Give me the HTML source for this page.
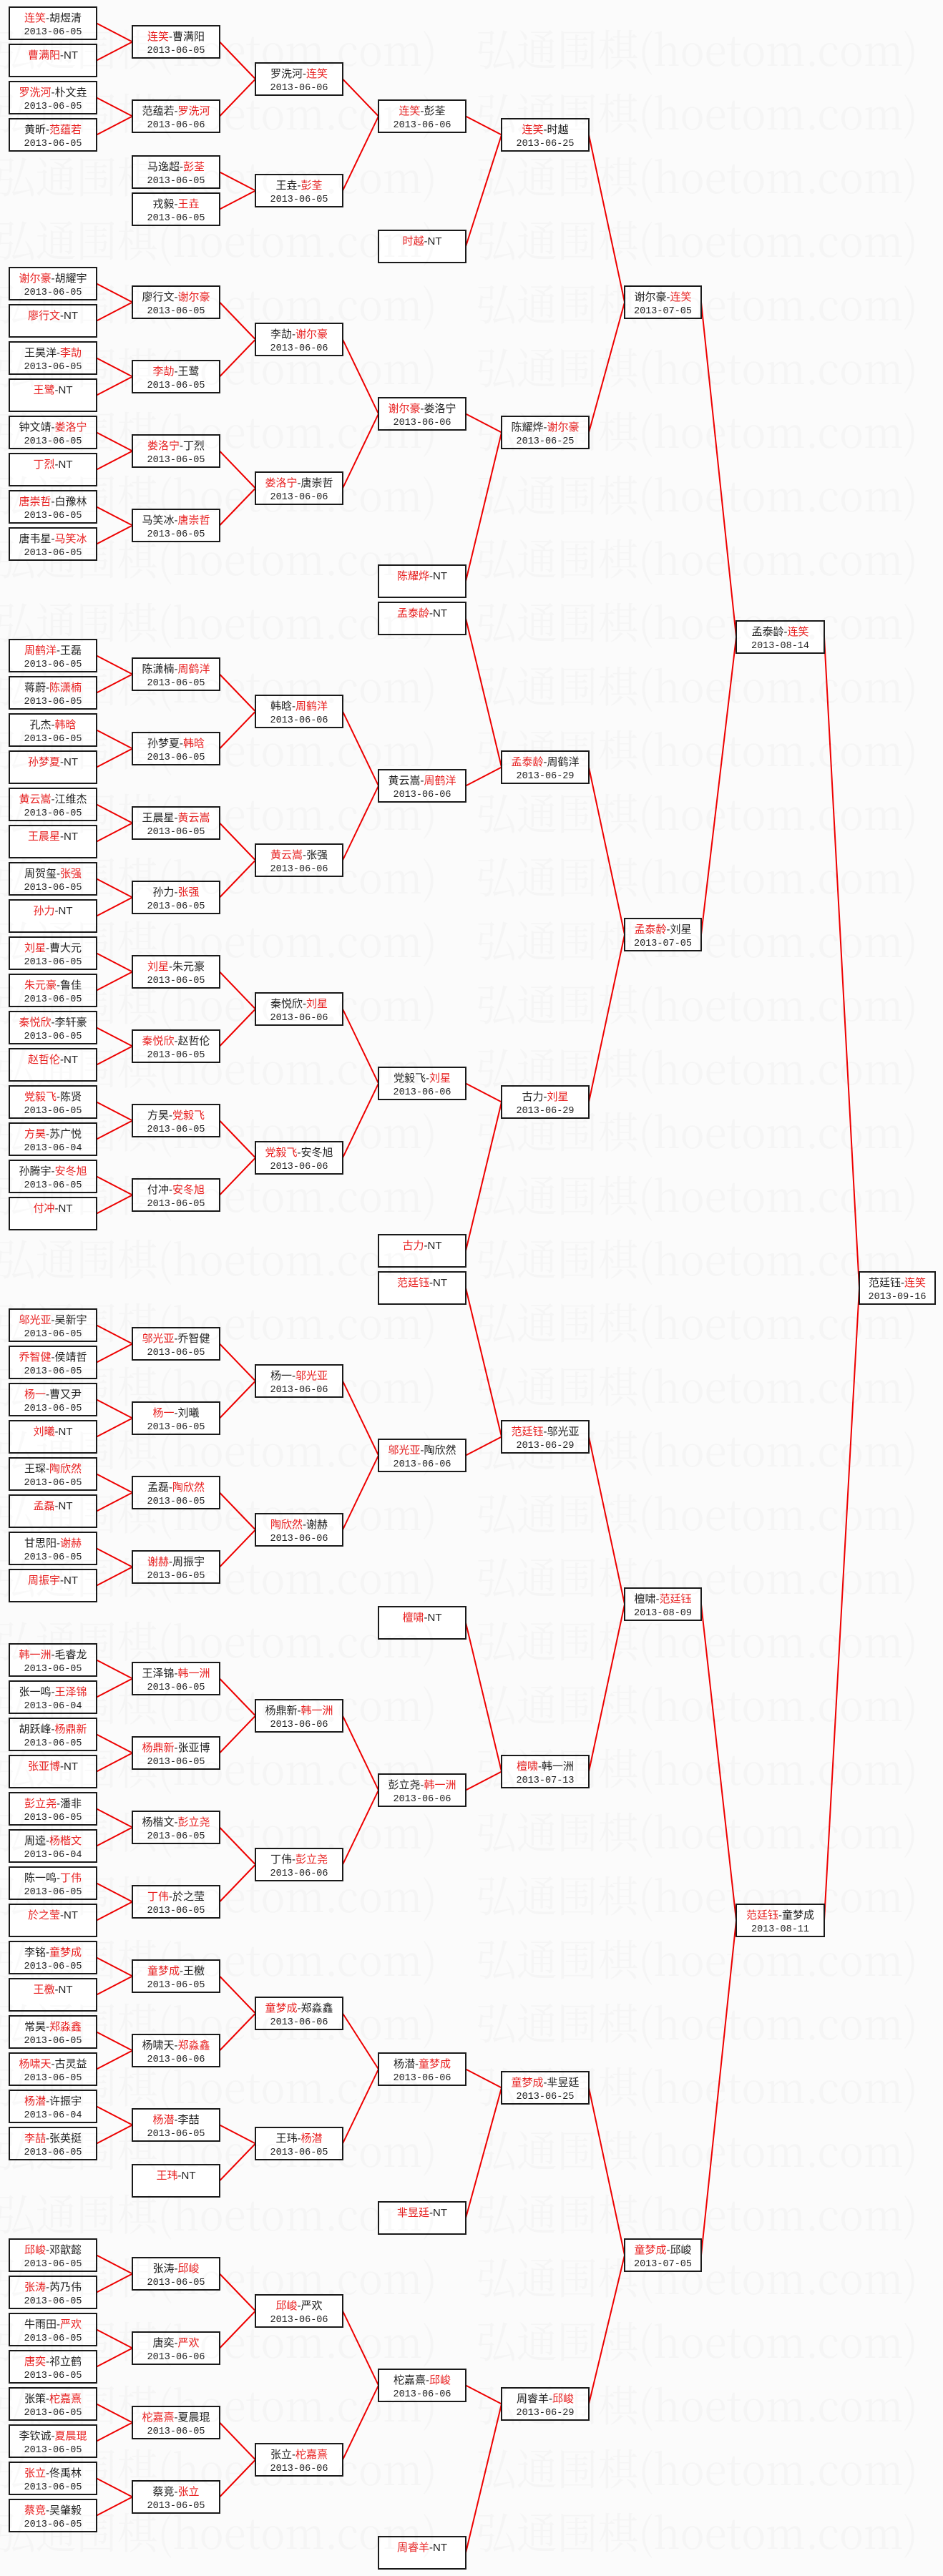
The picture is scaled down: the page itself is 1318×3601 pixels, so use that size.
<!DOCTYPE html>
<html><head><meta charset="utf-8">
<style>
body{margin:0;background:#fbfbfb}
svg{display:block}
rect{fill:#fff;stroke:#1a1a1a;stroke-width:2}
text{font-family:"Liberation Sans","Noto Sans CJK SC",sans-serif;font-size:15px;fill:#222;text-anchor:middle}
text.d{font-family:"Liberation Mono",monospace;font-size:13.5px}
tspan.r{fill:#e82020}
.wm text{font-family:"Noto Serif CJK SC",serif;font-size:60px;fill:#000;fill-opacity:0.022;text-anchor:start}
path{stroke:#e00;stroke-width:2;fill:none}
</style></head><body>
<svg width="1318" height="3601" viewBox="0 0 1318 3601" xmlns="http://www.w3.org/2000/svg">
<path d="M135 32.5L185 58.5M135 84.5L185 58.5M135 136.5L185 162.5M135 188.5L185 162.5M135 396.5L185 422.5M135 448.5L185 422.5M135 500.5L185 526.5M135 552.5L185 526.5M135 604.5L185 630.5M135 656.5L185 630.5M135 708.5L185 734.5M135 760.5L185 734.5M135 916.5L185 942.5M135 968.5L185 942.5M135 1020.5L185 1046.5M135 1072.5L185 1046.5M135 1124.5L185 1150.5M135 1176.5L185 1150.5M135 1228.5L185 1254.5M135 1280.5L185 1254.5M135 1332.5L185 1358.5M135 1384.5L185 1358.5M135 1436.5L185 1462.5M135 1488.5L185 1462.5M135 1540.5L185 1566.5M135 1592.5L185 1566.5M135 1644.5L185 1670.5M135 1696.5L185 1670.5M135 1852.5L185 1878.5M135 1904.5L185 1878.5M135 1956.5L185 1982.5M135 2008.5L185 1982.5M135 2060.5L185 2086.5M135 2112.5L185 2086.5M135 2164.5L185 2190.5M135 2216.5L185 2190.5M135 2320.5L185 2346.5M135 2372.5L185 2346.5M135 2424.5L185 2450.5M135 2476.5L185 2450.5M135 2528.5L185 2554.5M135 2580.5L185 2554.5M135 2632.5L185 2658.5M135 2684.5L185 2658.5M135 2736.5L185 2762.5M135 2788.5L185 2762.5M135 2840.5L185 2866.5M135 2892.5L185 2866.5M135 2944.5L185 2970.5M135 2996.5L185 2970.5M135 3152.5L185 3178.5M135 3204.5L185 3178.5M135 3256.5L185 3282.5M135 3308.5L185 3282.5M135 3360.5L185 3386.5M135 3412.5L185 3386.5M135 3464.5L185 3490.5M135 3516.5L185 3490.5
M307 58.5L357 110.5M307 162.5L357 110.5M307 240.5L357 266.5M307 292.5L357 266.5M307 422.5L357 474.5M307 526.5L357 474.5M307 630.5L357 682.5M307 734.5L357 682.5M307 942.5L357 994.5M307 1046.5L357 994.5M307 1150.5L357 1202.5M307 1254.5L357 1202.5M307 1358.5L357 1410.5M307 1462.5L357 1410.5M307 1566.5L357 1618.5M307 1670.5L357 1618.5M307 1878.5L357 1930.5M307 1982.5L357 1930.5M307 2086.5L357 2138.5M307 2190.5L357 2138.5M307 2346.5L357 2398.5M307 2450.5L357 2398.5M307 2554.5L357 2606.5M307 2658.5L357 2606.5M307 2762.5L357 2814.5M307 2866.5L357 2814.5M307 2970.5L357 2996.5M307 3048.5L357 2996.5M307 3178.5L357 3230.5M307 3282.5L357 3230.5M307 3386.5L357 3438.5M307 3490.5L357 3438.5
M479 110.5L529 162.5M479 266.5L529 162.5M479 474.5L529 578.5M479 682.5L529 578.5M479 994.5L529 1098.5M479 1202.5L529 1098.5M479 1410.5L529 1514.5M479 1618.5L529 1514.5M479 1930.5L529 2034.5M479 2138.5L529 2034.5M479 2398.5L529 2502.5M479 2606.5L529 2502.5M479 2814.5L529 2892.5M479 2996.5L529 2892.5M479 3230.5L529 3334.5M479 3438.5L529 3334.5
M651 162.5L701 188.5M651 344.5L701 188.5M651 578.5L701 604.5M651 812.5L701 604.5M651 864.5L701 1072.5M651 1098.5L701 1072.5M651 1514.5L701 1540.5M651 1748.5L701 1540.5M651 1800.5L701 2008.5M651 2034.5L701 2008.5M651 2268.5L701 2476.5M651 2502.5L701 2476.5M651 2892.5L701 2918.5M651 3100.5L701 2918.5M651 3334.5L701 3360.5M651 3568.5L701 3360.5
M823 188.5L873 422.5M823 604.5L873 422.5M823 1072.5L873 1306.5M823 1540.5L873 1306.5M823 2008.5L873 2242.5M823 2476.5L873 2242.5M823 2918.5L873 3152.5M823 3360.5L873 3152.5
M980 422.5L1029 890.5M980 1306.5L1029 890.5M980 2242.5L1029 2684.5M980 3152.5L1029 2684.5
M1152 890.5L1201 1800.5M1152 2684.5L1201 1800.5"/>

<g transform="translate(13,10)"><rect width="122" height="45"/><text x="61" y="20"><tspan class="r">连笑</tspan>-胡煜清</text><text class="d" x="61" y="38">2013-06-05</text></g>
<g transform="translate(13,62)"><rect width="122" height="45"/><text x="61" y="20"><tspan class="r">曹满阳</tspan>-NT</text></g>
<g transform="translate(13,114)"><rect width="122" height="45"/><text x="61" y="20"><tspan class="r">罗洗河</tspan>-朴文垚</text><text class="d" x="61" y="38">2013-06-05</text></g>
<g transform="translate(13,166)"><rect width="122" height="45"/><text x="61" y="20">黄昕-<tspan class="r">范蕴若</tspan></text><text class="d" x="61" y="38">2013-06-05</text></g>
<g transform="translate(13,374)"><rect width="122" height="45"/><text x="61" y="20"><tspan class="r">谢尔豪</tspan>-胡耀宇</text><text class="d" x="61" y="38">2013-06-05</text></g>
<g transform="translate(13,426)"><rect width="122" height="45"/><text x="61" y="20"><tspan class="r">廖行文</tspan>-NT</text></g>
<g transform="translate(13,478)"><rect width="122" height="45"/><text x="61" y="20">王昊洋-<tspan class="r">李劼</tspan></text><text class="d" x="61" y="38">2013-06-05</text></g>
<g transform="translate(13,530)"><rect width="122" height="45"/><text x="61" y="20"><tspan class="r">王鹭</tspan>-NT</text></g>
<g transform="translate(13,582)"><rect width="122" height="45"/><text x="61" y="20">钟文靖-<tspan class="r">娄洛宁</tspan></text><text class="d" x="61" y="38">2013-06-05</text></g>
<g transform="translate(13,634)"><rect width="122" height="45"/><text x="61" y="20"><tspan class="r">丁烈</tspan>-NT</text></g>
<g transform="translate(13,686)"><rect width="122" height="45"/><text x="61" y="20"><tspan class="r">唐崇哲</tspan>-白豫林</text><text class="d" x="61" y="38">2013-06-05</text></g>
<g transform="translate(13,738)"><rect width="122" height="45"/><text x="61" y="20">唐韦星-<tspan class="r">马笑冰</tspan></text><text class="d" x="61" y="38">2013-06-05</text></g>
<g transform="translate(13,894)"><rect width="122" height="45"/><text x="61" y="20"><tspan class="r">周鹤洋</tspan>-王磊</text><text class="d" x="61" y="38">2013-06-05</text></g>
<g transform="translate(13,946)"><rect width="122" height="45"/><text x="61" y="20">蒋蔚-<tspan class="r">陈潇楠</tspan></text><text class="d" x="61" y="38">2013-06-05</text></g>
<g transform="translate(13,998)"><rect width="122" height="45"/><text x="61" y="20">孔杰-<tspan class="r">韩晗</tspan></text><text class="d" x="61" y="38">2013-06-05</text></g>
<g transform="translate(13,1050)"><rect width="122" height="45"/><text x="61" y="20"><tspan class="r">孙梦夏</tspan>-NT</text></g>
<g transform="translate(13,1102)"><rect width="122" height="45"/><text x="61" y="20"><tspan class="r">黄云嵩</tspan>-江维杰</text><text class="d" x="61" y="38">2013-06-05</text></g>
<g transform="translate(13,1154)"><rect width="122" height="45"/><text x="61" y="20"><tspan class="r">王晨星</tspan>-NT</text></g>
<g transform="translate(13,1206)"><rect width="122" height="45"/><text x="61" y="20">周贺玺-<tspan class="r">张强</tspan></text><text class="d" x="61" y="38">2013-06-05</text></g>
<g transform="translate(13,1258)"><rect width="122" height="45"/><text x="61" y="20"><tspan class="r">孙力</tspan>-NT</text></g>
<g transform="translate(13,1310)"><rect width="122" height="45"/><text x="61" y="20"><tspan class="r">刘星</tspan>-曹大元</text><text class="d" x="61" y="38">2013-06-05</text></g>
<g transform="translate(13,1362)"><rect width="122" height="45"/><text x="61" y="20"><tspan class="r">朱元豪</tspan>-鲁佳</text><text class="d" x="61" y="38">2013-06-05</text></g>
<g transform="translate(13,1414)"><rect width="122" height="45"/><text x="61" y="20"><tspan class="r">秦悦欣</tspan>-李轩豪</text><text class="d" x="61" y="38">2013-06-05</text></g>
<g transform="translate(13,1466)"><rect width="122" height="45"/><text x="61" y="20"><tspan class="r">赵哲伦</tspan>-NT</text></g>
<g transform="translate(13,1518)"><rect width="122" height="45"/><text x="61" y="20"><tspan class="r">党毅飞</tspan>-陈贤</text><text class="d" x="61" y="38">2013-06-05</text></g>
<g transform="translate(13,1570)"><rect width="122" height="45"/><text x="61" y="20"><tspan class="r">方昊</tspan>-苏广悦</text><text class="d" x="61" y="38">2013-06-04</text></g>
<g transform="translate(13,1622)"><rect width="122" height="45"/><text x="61" y="20">孙腾宇-<tspan class="r">安冬旭</tspan></text><text class="d" x="61" y="38">2013-06-05</text></g>
<g transform="translate(13,1674)"><rect width="122" height="45"/><text x="61" y="20"><tspan class="r">付冲</tspan>-NT</text></g>
<g transform="translate(13,1830)"><rect width="122" height="45"/><text x="61" y="20"><tspan class="r">邬光亚</tspan>-吴新宇</text><text class="d" x="61" y="38">2013-06-05</text></g>
<g transform="translate(13,1882)"><rect width="122" height="45"/><text x="61" y="20"><tspan class="r">乔智健</tspan>-侯靖哲</text><text class="d" x="61" y="38">2013-06-05</text></g>
<g transform="translate(13,1934)"><rect width="122" height="45"/><text x="61" y="20"><tspan class="r">杨一</tspan>-曹又尹</text><text class="d" x="61" y="38">2013-06-05</text></g>
<g transform="translate(13,1986)"><rect width="122" height="45"/><text x="61" y="20"><tspan class="r">刘曦</tspan>-NT</text></g>
<g transform="translate(13,2038)"><rect width="122" height="45"/><text x="61" y="20">王琛-<tspan class="r">陶欣然</tspan></text><text class="d" x="61" y="38">2013-06-05</text></g>
<g transform="translate(13,2090)"><rect width="122" height="45"/><text x="61" y="20"><tspan class="r">孟磊</tspan>-NT</text></g>
<g transform="translate(13,2142)"><rect width="122" height="45"/><text x="61" y="20">甘思阳-<tspan class="r">谢赫</tspan></text><text class="d" x="61" y="38">2013-06-05</text></g>
<g transform="translate(13,2194)"><rect width="122" height="45"/><text x="61" y="20"><tspan class="r">周振宇</tspan>-NT</text></g>
<g transform="translate(13,2298)"><rect width="122" height="45"/><text x="61" y="20"><tspan class="r">韩一洲</tspan>-毛睿龙</text><text class="d" x="61" y="38">2013-06-05</text></g>
<g transform="translate(13,2350)"><rect width="122" height="45"/><text x="61" y="20">张一鸣-<tspan class="r">王泽锦</tspan></text><text class="d" x="61" y="38">2013-06-04</text></g>
<g transform="translate(13,2402)"><rect width="122" height="45"/><text x="61" y="20">胡跃峰-<tspan class="r">杨鼎新</tspan></text><text class="d" x="61" y="38">2013-06-05</text></g>
<g transform="translate(13,2454)"><rect width="122" height="45"/><text x="61" y="20"><tspan class="r">张亚博</tspan>-NT</text></g>
<g transform="translate(13,2506)"><rect width="122" height="45"/><text x="61" y="20"><tspan class="r">彭立尧</tspan>-潘非</text><text class="d" x="61" y="38">2013-06-05</text></g>
<g transform="translate(13,2558)"><rect width="122" height="45"/><text x="61" y="20">周逵-<tspan class="r">杨楷文</tspan></text><text class="d" x="61" y="38">2013-06-04</text></g>
<g transform="translate(13,2610)"><rect width="122" height="45"/><text x="61" y="20">陈一鸣-<tspan class="r">丁伟</tspan></text><text class="d" x="61" y="38">2013-06-05</text></g>
<g transform="translate(13,2662)"><rect width="122" height="45"/><text x="61" y="20"><tspan class="r">於之莹</tspan>-NT</text></g>
<g transform="translate(13,2714)"><rect width="122" height="45"/><text x="61" y="20">李铭-<tspan class="r">童梦成</tspan></text><text class="d" x="61" y="38">2013-06-05</text></g>
<g transform="translate(13,2766)"><rect width="122" height="45"/><text x="61" y="20"><tspan class="r">王檄</tspan>-NT</text></g>
<g transform="translate(13,2818)"><rect width="122" height="45"/><text x="61" y="20">常昊-<tspan class="r">郑淼鑫</tspan></text><text class="d" x="61" y="38">2013-06-05</text></g>
<g transform="translate(13,2870)"><rect width="122" height="45"/><text x="61" y="20"><tspan class="r">杨啸天</tspan>-古灵益</text><text class="d" x="61" y="38">2013-06-05</text></g>
<g transform="translate(13,2922)"><rect width="122" height="45"/><text x="61" y="20"><tspan class="r">杨潜</tspan>-许振宇</text><text class="d" x="61" y="38">2013-06-04</text></g>
<g transform="translate(13,2974)"><rect width="122" height="45"/><text x="61" y="20"><tspan class="r">李喆</tspan>-张英挺</text><text class="d" x="61" y="38">2013-06-05</text></g>
<g transform="translate(13,3130)"><rect width="122" height="45"/><text x="61" y="20"><tspan class="r">邱峻</tspan>-邓歆懿</text><text class="d" x="61" y="38">2013-06-05</text></g>
<g transform="translate(13,3182)"><rect width="122" height="45"/><text x="61" y="20"><tspan class="r">张涛</tspan>-芮乃伟</text><text class="d" x="61" y="38">2013-06-05</text></g>
<g transform="translate(13,3234)"><rect width="122" height="45"/><text x="61" y="20">牛雨田-<tspan class="r">严欢</tspan></text><text class="d" x="61" y="38">2013-06-05</text></g>
<g transform="translate(13,3286)"><rect width="122" height="45"/><text x="61" y="20"><tspan class="r">唐奕</tspan>-祁立鹤</text><text class="d" x="61" y="38">2013-06-05</text></g>
<g transform="translate(13,3338)"><rect width="122" height="45"/><text x="61" y="20">张策-<tspan class="r">柁嘉熹</tspan></text><text class="d" x="61" y="38">2013-06-05</text></g>
<g transform="translate(13,3390)"><rect width="122" height="45"/><text x="61" y="20">李钦诚-<tspan class="r">夏晨琨</tspan></text><text class="d" x="61" y="38">2013-06-05</text></g>
<g transform="translate(13,3442)"><rect width="122" height="45"/><text x="61" y="20"><tspan class="r">张立</tspan>-佟禹林</text><text class="d" x="61" y="38">2013-06-05</text></g>
<g transform="translate(13,3494)"><rect width="122" height="45"/><text x="61" y="20"><tspan class="r">蔡竞</tspan>-吴肇毅</text><text class="d" x="61" y="38">2013-06-05</text></g>

<g transform="translate(185,36)"><rect width="122" height="45"/><text x="61" y="20"><tspan class="r">连笑</tspan>-曹满阳</text><text class="d" x="61" y="38">2013-06-05</text></g>
<g transform="translate(185,140)"><rect width="122" height="45"/><text x="61" y="20">范蕴若-<tspan class="r">罗洗河</tspan></text><text class="d" x="61" y="38">2013-06-06</text></g>
<g transform="translate(185,218)"><rect width="122" height="45"/><text x="61" y="20">马逸超-<tspan class="r">彭荃</tspan></text><text class="d" x="61" y="38">2013-06-05</text></g>
<g transform="translate(185,270)"><rect width="122" height="45"/><text x="61" y="20">戎毅-<tspan class="r">王垚</tspan></text><text class="d" x="61" y="38">2013-06-05</text></g>
<g transform="translate(185,400)"><rect width="122" height="45"/><text x="61" y="20">廖行文-<tspan class="r">谢尔豪</tspan></text><text class="d" x="61" y="38">2013-06-05</text></g>
<g transform="translate(185,504)"><rect width="122" height="45"/><text x="61" y="20"><tspan class="r">李劼</tspan>-王鹭</text><text class="d" x="61" y="38">2013-06-05</text></g>
<g transform="translate(185,608)"><rect width="122" height="45"/><text x="61" y="20"><tspan class="r">娄洛宁</tspan>-丁烈</text><text class="d" x="61" y="38">2013-06-05</text></g>
<g transform="translate(185,712)"><rect width="122" height="45"/><text x="61" y="20">马笑冰-<tspan class="r">唐崇哲</tspan></text><text class="d" x="61" y="38">2013-06-05</text></g>
<g transform="translate(185,920)"><rect width="122" height="45"/><text x="61" y="20">陈潇楠-<tspan class="r">周鹤洋</tspan></text><text class="d" x="61" y="38">2013-06-05</text></g>
<g transform="translate(185,1024)"><rect width="122" height="45"/><text x="61" y="20">孙梦夏-<tspan class="r">韩晗</tspan></text><text class="d" x="61" y="38">2013-06-05</text></g>
<g transform="translate(185,1128)"><rect width="122" height="45"/><text x="61" y="20">王晨星-<tspan class="r">黄云嵩</tspan></text><text class="d" x="61" y="38">2013-06-05</text></g>
<g transform="translate(185,1232)"><rect width="122" height="45"/><text x="61" y="20">孙力-<tspan class="r">张强</tspan></text><text class="d" x="61" y="38">2013-06-05</text></g>
<g transform="translate(185,1336)"><rect width="122" height="45"/><text x="61" y="20"><tspan class="r">刘星</tspan>-朱元豪</text><text class="d" x="61" y="38">2013-06-05</text></g>
<g transform="translate(185,1440)"><rect width="122" height="45"/><text x="61" y="20"><tspan class="r">秦悦欣</tspan>-赵哲伦</text><text class="d" x="61" y="38">2013-06-05</text></g>
<g transform="translate(185,1544)"><rect width="122" height="45"/><text x="61" y="20">方昊-<tspan class="r">党毅飞</tspan></text><text class="d" x="61" y="38">2013-06-05</text></g>
<g transform="translate(185,1648)"><rect width="122" height="45"/><text x="61" y="20">付冲-<tspan class="r">安冬旭</tspan></text><text class="d" x="61" y="38">2013-06-05</text></g>
<g transform="translate(185,1856)"><rect width="122" height="45"/><text x="61" y="20"><tspan class="r">邬光亚</tspan>-乔智健</text><text class="d" x="61" y="38">2013-06-05</text></g>
<g transform="translate(185,1960)"><rect width="122" height="45"/><text x="61" y="20"><tspan class="r">杨一</tspan>-刘曦</text><text class="d" x="61" y="38">2013-06-05</text></g>
<g transform="translate(185,2064)"><rect width="122" height="45"/><text x="61" y="20">孟磊-<tspan class="r">陶欣然</tspan></text><text class="d" x="61" y="38">2013-06-05</text></g>
<g transform="translate(185,2168)"><rect width="122" height="45"/><text x="61" y="20"><tspan class="r">谢赫</tspan>-周振宇</text><text class="d" x="61" y="38">2013-06-05</text></g>
<g transform="translate(185,2324)"><rect width="122" height="45"/><text x="61" y="20">王泽锦-<tspan class="r">韩一洲</tspan></text><text class="d" x="61" y="38">2013-06-05</text></g>
<g transform="translate(185,2428)"><rect width="122" height="45"/><text x="61" y="20"><tspan class="r">杨鼎新</tspan>-张亚博</text><text class="d" x="61" y="38">2013-06-05</text></g>
<g transform="translate(185,2532)"><rect width="122" height="45"/><text x="61" y="20">杨楷文-<tspan class="r">彭立尧</tspan></text><text class="d" x="61" y="38">2013-06-05</text></g>
<g transform="translate(185,2636)"><rect width="122" height="45"/><text x="61" y="20"><tspan class="r">丁伟</tspan>-於之莹</text><text class="d" x="61" y="38">2013-06-05</text></g>
<g transform="translate(185,2740)"><rect width="122" height="45"/><text x="61" y="20"><tspan class="r">童梦成</tspan>-王檄</text><text class="d" x="61" y="38">2013-06-05</text></g>
<g transform="translate(185,2844)"><rect width="122" height="45"/><text x="61" y="20">杨啸天-<tspan class="r">郑淼鑫</tspan></text><text class="d" x="61" y="38">2013-06-06</text></g>
<g transform="translate(185,2948)"><rect width="122" height="45"/><text x="61" y="20"><tspan class="r">杨潜</tspan>-李喆</text><text class="d" x="61" y="38">2013-06-05</text></g>
<g transform="translate(185,3026)"><rect width="122" height="45"/><text x="61" y="20"><tspan class="r">王玮</tspan>-NT</text></g>
<g transform="translate(185,3156)"><rect width="122" height="45"/><text x="61" y="20">张涛-<tspan class="r">邱峻</tspan></text><text class="d" x="61" y="38">2013-06-05</text></g>
<g transform="translate(185,3260)"><rect width="122" height="45"/><text x="61" y="20">唐奕-<tspan class="r">严欢</tspan></text><text class="d" x="61" y="38">2013-06-06</text></g>
<g transform="translate(185,3364)"><rect width="122" height="45"/><text x="61" y="20"><tspan class="r">柁嘉熹</tspan>-夏晨琨</text><text class="d" x="61" y="38">2013-06-05</text></g>
<g transform="translate(185,3468)"><rect width="122" height="45"/><text x="61" y="20">蔡竞-<tspan class="r">张立</tspan></text><text class="d" x="61" y="38">2013-06-05</text></g>

<g transform="translate(357,88)"><rect width="122" height="45"/><text x="61" y="20">罗洗河-<tspan class="r">连笑</tspan></text><text class="d" x="61" y="38">2013-06-06</text></g>
<g transform="translate(357,244)"><rect width="122" height="45"/><text x="61" y="20">王垚-<tspan class="r">彭荃</tspan></text><text class="d" x="61" y="38">2013-06-05</text></g>
<g transform="translate(357,452)"><rect width="122" height="45"/><text x="61" y="20">李劼-<tspan class="r">谢尔豪</tspan></text><text class="d" x="61" y="38">2013-06-06</text></g>
<g transform="translate(357,660)"><rect width="122" height="45"/><text x="61" y="20"><tspan class="r">娄洛宁</tspan>-唐崇哲</text><text class="d" x="61" y="38">2013-06-06</text></g>
<g transform="translate(357,972)"><rect width="122" height="45"/><text x="61" y="20">韩晗-<tspan class="r">周鹤洋</tspan></text><text class="d" x="61" y="38">2013-06-06</text></g>
<g transform="translate(357,1180)"><rect width="122" height="45"/><text x="61" y="20"><tspan class="r">黄云嵩</tspan>-张强</text><text class="d" x="61" y="38">2013-06-06</text></g>
<g transform="translate(357,1388)"><rect width="122" height="45"/><text x="61" y="20">秦悦欣-<tspan class="r">刘星</tspan></text><text class="d" x="61" y="38">2013-06-06</text></g>
<g transform="translate(357,1596)"><rect width="122" height="45"/><text x="61" y="20"><tspan class="r">党毅飞</tspan>-安冬旭</text><text class="d" x="61" y="38">2013-06-06</text></g>
<g transform="translate(357,1908)"><rect width="122" height="45"/><text x="61" y="20">杨一-<tspan class="r">邬光亚</tspan></text><text class="d" x="61" y="38">2013-06-06</text></g>
<g transform="translate(357,2116)"><rect width="122" height="45"/><text x="61" y="20"><tspan class="r">陶欣然</tspan>-谢赫</text><text class="d" x="61" y="38">2013-06-06</text></g>
<g transform="translate(357,2376)"><rect width="122" height="45"/><text x="61" y="20">杨鼎新-<tspan class="r">韩一洲</tspan></text><text class="d" x="61" y="38">2013-06-06</text></g>
<g transform="translate(357,2584)"><rect width="122" height="45"/><text x="61" y="20">丁伟-<tspan class="r">彭立尧</tspan></text><text class="d" x="61" y="38">2013-06-06</text></g>
<g transform="translate(357,2792)"><rect width="122" height="45"/><text x="61" y="20"><tspan class="r">童梦成</tspan>-郑淼鑫</text><text class="d" x="61" y="38">2013-06-06</text></g>
<g transform="translate(357,2974)"><rect width="122" height="45"/><text x="61" y="20">王玮-<tspan class="r">杨潜</tspan></text><text class="d" x="61" y="38">2013-06-05</text></g>
<g transform="translate(357,3208)"><rect width="122" height="45"/><text x="61" y="20"><tspan class="r">邱峻</tspan>-严欢</text><text class="d" x="61" y="38">2013-06-06</text></g>
<g transform="translate(357,3416)"><rect width="122" height="45"/><text x="61" y="20">张立-<tspan class="r">柁嘉熹</tspan></text><text class="d" x="61" y="38">2013-06-06</text></g>

<g transform="translate(529,140)"><rect width="122" height="45"/><text x="61" y="20"><tspan class="r">连笑</tspan>-彭荃</text><text class="d" x="61" y="38">2013-06-06</text></g>
<g transform="translate(529,322)"><rect width="122" height="45"/><text x="61" y="20"><tspan class="r">时越</tspan>-NT</text></g>
<g transform="translate(529,556)"><rect width="122" height="45"/><text x="61" y="20"><tspan class="r">谢尔豪</tspan>-娄洛宁</text><text class="d" x="61" y="38">2013-06-06</text></g>
<g transform="translate(529,790)"><rect width="122" height="45"/><text x="61" y="20"><tspan class="r">陈耀烨</tspan>-NT</text></g>
<g transform="translate(529,842)"><rect width="122" height="45"/><text x="61" y="20"><tspan class="r">孟泰龄</tspan>-NT</text></g>
<g transform="translate(529,1076)"><rect width="122" height="45"/><text x="61" y="20">黄云嵩-<tspan class="r">周鹤洋</tspan></text><text class="d" x="61" y="38">2013-06-06</text></g>
<g transform="translate(529,1492)"><rect width="122" height="45"/><text x="61" y="20">党毅飞-<tspan class="r">刘星</tspan></text><text class="d" x="61" y="38">2013-06-06</text></g>
<g transform="translate(529,1726)"><rect width="122" height="45"/><text x="61" y="20"><tspan class="r">古力</tspan>-NT</text></g>
<g transform="translate(529,1778)"><rect width="122" height="45"/><text x="61" y="20"><tspan class="r">范廷钰</tspan>-NT</text></g>
<g transform="translate(529,2012)"><rect width="122" height="45"/><text x="61" y="20"><tspan class="r">邬光亚</tspan>-陶欣然</text><text class="d" x="61" y="38">2013-06-06</text></g>
<g transform="translate(529,2246)"><rect width="122" height="45"/><text x="61" y="20"><tspan class="r">檀啸</tspan>-NT</text></g>
<g transform="translate(529,2480)"><rect width="122" height="45"/><text x="61" y="20">彭立尧-<tspan class="r">韩一洲</tspan></text><text class="d" x="61" y="38">2013-06-06</text></g>
<g transform="translate(529,2870)"><rect width="122" height="45"/><text x="61" y="20">杨潜-<tspan class="r">童梦成</tspan></text><text class="d" x="61" y="38">2013-06-06</text></g>
<g transform="translate(529,3078)"><rect width="122" height="45"/><text x="61" y="20"><tspan class="r">芈昱廷</tspan>-NT</text></g>
<g transform="translate(529,3312)"><rect width="122" height="45"/><text x="61" y="20">柁嘉熹-<tspan class="r">邱峻</tspan></text><text class="d" x="61" y="38">2013-06-06</text></g>
<g transform="translate(529,3546)"><rect width="122" height="45"/><text x="61" y="20"><tspan class="r">周睿羊</tspan>-NT</text></g>

<g transform="translate(701,166)"><rect width="122" height="45"/><text x="61" y="20"><tspan class="r">连笑</tspan>-时越</text><text class="d" x="61" y="38">2013-06-25</text></g>
<g transform="translate(701,582)"><rect width="122" height="45"/><text x="61" y="20">陈耀烨-<tspan class="r">谢尔豪</tspan></text><text class="d" x="61" y="38">2013-06-25</text></g>
<g transform="translate(701,1050)"><rect width="122" height="45"/><text x="61" y="20"><tspan class="r">孟泰龄</tspan>-周鹤洋</text><text class="d" x="61" y="38">2013-06-29</text></g>
<g transform="translate(701,1518)"><rect width="122" height="45"/><text x="61" y="20">古力-<tspan class="r">刘星</tspan></text><text class="d" x="61" y="38">2013-06-29</text></g>
<g transform="translate(701,1986)"><rect width="122" height="45"/><text x="61" y="20"><tspan class="r">范廷钰</tspan>-邬光亚</text><text class="d" x="61" y="38">2013-06-29</text></g>
<g transform="translate(701,2454)"><rect width="122" height="45"/><text x="61" y="20"><tspan class="r">檀啸</tspan>-韩一洲</text><text class="d" x="61" y="38">2013-07-13</text></g>
<g transform="translate(701,2896)"><rect width="122" height="45"/><text x="61" y="20"><tspan class="r">童梦成</tspan>-芈昱廷</text><text class="d" x="61" y="38">2013-06-25</text></g>
<g transform="translate(701,3338)"><rect width="122" height="45"/><text x="61" y="20">周睿羊-<tspan class="r">邱峻</tspan></text><text class="d" x="61" y="38">2013-06-29</text></g>

<g transform="translate(873,400)"><rect width="107" height="45"/><text x="53.5" y="20">谢尔豪-<tspan class="r">连笑</tspan></text><text class="d" x="53.5" y="38">2013-07-05</text></g>
<g transform="translate(873,1284)"><rect width="107" height="45"/><text x="53.5" y="20"><tspan class="r">孟泰龄</tspan>-刘星</text><text class="d" x="53.5" y="38">2013-07-05</text></g>
<g transform="translate(873,2220)"><rect width="107" height="45"/><text x="53.5" y="20">檀啸-<tspan class="r">范廷钰</tspan></text><text class="d" x="53.5" y="38">2013-08-09</text></g>
<g transform="translate(873,3130)"><rect width="107" height="45"/><text x="53.5" y="20"><tspan class="r">童梦成</tspan>-邱峻</text><text class="d" x="53.5" y="38">2013-07-05</text></g>

<g transform="translate(1029,868)"><rect width="123" height="45"/><text x="61.5" y="20">孟泰龄-<tspan class="r">连笑</tspan></text><text class="d" x="61.5" y="38">2013-08-14</text></g>
<g transform="translate(1029,2662)"><rect width="123" height="45"/><text x="61.5" y="20"><tspan class="r">范廷钰</tspan>-童梦成</text><text class="d" x="61.5" y="38">2013-08-11</text></g>

<g transform="translate(1201,1778)"><rect width="106" height="45"/><text x="53" y="20">范廷钰-<tspan class="r">连笑</tspan></text><text class="d" x="53" y="38">2013-09-16</text></g>

<g class="wm">
<text x="-7" y="92" textLength="618" lengthAdjust="spacingAndGlyphs">弘通围棋(hoetom.com)</text><text x="665" y="92" textLength="618" lengthAdjust="spacingAndGlyphs">弘通围棋(hoetom.com)</text>
<text x="-7" y="181" textLength="618" lengthAdjust="spacingAndGlyphs">弘通围棋(hoetom.com)</text><text x="665" y="181" textLength="618" lengthAdjust="spacingAndGlyphs">弘通围棋(hoetom.com)</text>
<text x="-7" y="270" textLength="618" lengthAdjust="spacingAndGlyphs">弘通围棋(hoetom.com)</text><text x="665" y="270" textLength="618" lengthAdjust="spacingAndGlyphs">弘通围棋(hoetom.com)</text>
<text x="-7" y="359" textLength="618" lengthAdjust="spacingAndGlyphs">弘通围棋(hoetom.com)</text><text x="665" y="359" textLength="618" lengthAdjust="spacingAndGlyphs">弘通围棋(hoetom.com)</text>
<text x="-7" y="448" textLength="618" lengthAdjust="spacingAndGlyphs">弘通围棋(hoetom.com)</text><text x="665" y="448" textLength="618" lengthAdjust="spacingAndGlyphs">弘通围棋(hoetom.com)</text>
<text x="-7" y="537" textLength="618" lengthAdjust="spacingAndGlyphs">弘通围棋(hoetom.com)</text><text x="665" y="537" textLength="618" lengthAdjust="spacingAndGlyphs">弘通围棋(hoetom.com)</text>
<text x="-7" y="626" textLength="618" lengthAdjust="spacingAndGlyphs">弘通围棋(hoetom.com)</text><text x="665" y="626" textLength="618" lengthAdjust="spacingAndGlyphs">弘通围棋(hoetom.com)</text>
<text x="-7" y="715" textLength="618" lengthAdjust="spacingAndGlyphs">弘通围棋(hoetom.com)</text><text x="665" y="715" textLength="618" lengthAdjust="spacingAndGlyphs">弘通围棋(hoetom.com)</text>
<text x="-7" y="804" textLength="618" lengthAdjust="spacingAndGlyphs">弘通围棋(hoetom.com)</text><text x="665" y="804" textLength="618" lengthAdjust="spacingAndGlyphs">弘通围棋(hoetom.com)</text>
<text x="-7" y="893" textLength="618" lengthAdjust="spacingAndGlyphs">弘通围棋(hoetom.com)</text><text x="665" y="893" textLength="618" lengthAdjust="spacingAndGlyphs">弘通围棋(hoetom.com)</text>
<text x="-7" y="982" textLength="618" lengthAdjust="spacingAndGlyphs">弘通围棋(hoetom.com)</text><text x="665" y="982" textLength="618" lengthAdjust="spacingAndGlyphs">弘通围棋(hoetom.com)</text>
<text x="-7" y="1071" textLength="618" lengthAdjust="spacingAndGlyphs">弘通围棋(hoetom.com)</text><text x="665" y="1071" textLength="618" lengthAdjust="spacingAndGlyphs">弘通围棋(hoetom.com)</text>
<text x="-7" y="1160" textLength="618" lengthAdjust="spacingAndGlyphs">弘通围棋(hoetom.com)</text><text x="665" y="1160" textLength="618" lengthAdjust="spacingAndGlyphs">弘通围棋(hoetom.com)</text>
<text x="-7" y="1249" textLength="618" lengthAdjust="spacingAndGlyphs">弘通围棋(hoetom.com)</text><text x="665" y="1249" textLength="618" lengthAdjust="spacingAndGlyphs">弘通围棋(hoetom.com)</text>
<text x="-7" y="1338" textLength="618" lengthAdjust="spacingAndGlyphs">弘通围棋(hoetom.com)</text><text x="665" y="1338" textLength="618" lengthAdjust="spacingAndGlyphs">弘通围棋(hoetom.com)</text>
<text x="-7" y="1427" textLength="618" lengthAdjust="spacingAndGlyphs">弘通围棋(hoetom.com)</text><text x="665" y="1427" textLength="618" lengthAdjust="spacingAndGlyphs">弘通围棋(hoetom.com)</text>
<text x="-7" y="1516" textLength="618" lengthAdjust="spacingAndGlyphs">弘通围棋(hoetom.com)</text><text x="665" y="1516" textLength="618" lengthAdjust="spacingAndGlyphs">弘通围棋(hoetom.com)</text>
<text x="-7" y="1605" textLength="618" lengthAdjust="spacingAndGlyphs">弘通围棋(hoetom.com)</text><text x="665" y="1605" textLength="618" lengthAdjust="spacingAndGlyphs">弘通围棋(hoetom.com)</text>
<text x="-7" y="1694" textLength="618" lengthAdjust="spacingAndGlyphs">弘通围棋(hoetom.com)</text><text x="665" y="1694" textLength="618" lengthAdjust="spacingAndGlyphs">弘通围棋(hoetom.com)</text>
<text x="-7" y="1783" textLength="618" lengthAdjust="spacingAndGlyphs">弘通围棋(hoetom.com)</text><text x="665" y="1783" textLength="618" lengthAdjust="spacingAndGlyphs">弘通围棋(hoetom.com)</text>
<text x="-7" y="1872" textLength="618" lengthAdjust="spacingAndGlyphs">弘通围棋(hoetom.com)</text><text x="665" y="1872" textLength="618" lengthAdjust="spacingAndGlyphs">弘通围棋(hoetom.com)</text>
<text x="-7" y="1961" textLength="618" lengthAdjust="spacingAndGlyphs">弘通围棋(hoetom.com)</text><text x="665" y="1961" textLength="618" lengthAdjust="spacingAndGlyphs">弘通围棋(hoetom.com)</text>
<text x="-7" y="2050" textLength="618" lengthAdjust="spacingAndGlyphs">弘通围棋(hoetom.com)</text><text x="665" y="2050" textLength="618" lengthAdjust="spacingAndGlyphs">弘通围棋(hoetom.com)</text>
<text x="-7" y="2139" textLength="618" lengthAdjust="spacingAndGlyphs">弘通围棋(hoetom.com)</text><text x="665" y="2139" textLength="618" lengthAdjust="spacingAndGlyphs">弘通围棋(hoetom.com)</text>
<text x="-7" y="2228" textLength="618" lengthAdjust="spacingAndGlyphs">弘通围棋(hoetom.com)</text><text x="665" y="2228" textLength="618" lengthAdjust="spacingAndGlyphs">弘通围棋(hoetom.com)</text>
<text x="-7" y="2317" textLength="618" lengthAdjust="spacingAndGlyphs">弘通围棋(hoetom.com)</text><text x="665" y="2317" textLength="618" lengthAdjust="spacingAndGlyphs">弘通围棋(hoetom.com)</text>
<text x="-7" y="2406" textLength="618" lengthAdjust="spacingAndGlyphs">弘通围棋(hoetom.com)</text><text x="665" y="2406" textLength="618" lengthAdjust="spacingAndGlyphs">弘通围棋(hoetom.com)</text>
<text x="-7" y="2495" textLength="618" lengthAdjust="spacingAndGlyphs">弘通围棋(hoetom.com)</text><text x="665" y="2495" textLength="618" lengthAdjust="spacingAndGlyphs">弘通围棋(hoetom.com)</text>
<text x="-7" y="2584" textLength="618" lengthAdjust="spacingAndGlyphs">弘通围棋(hoetom.com)</text><text x="665" y="2584" textLength="618" lengthAdjust="spacingAndGlyphs">弘通围棋(hoetom.com)</text>
<text x="-7" y="2673" textLength="618" lengthAdjust="spacingAndGlyphs">弘通围棋(hoetom.com)</text><text x="665" y="2673" textLength="618" lengthAdjust="spacingAndGlyphs">弘通围棋(hoetom.com)</text>
<text x="-7" y="2762" textLength="618" lengthAdjust="spacingAndGlyphs">弘通围棋(hoetom.com)</text><text x="665" y="2762" textLength="618" lengthAdjust="spacingAndGlyphs">弘通围棋(hoetom.com)</text>
<text x="-7" y="2851" textLength="618" lengthAdjust="spacingAndGlyphs">弘通围棋(hoetom.com)</text><text x="665" y="2851" textLength="618" lengthAdjust="spacingAndGlyphs">弘通围棋(hoetom.com)</text>
<text x="-7" y="2940" textLength="618" lengthAdjust="spacingAndGlyphs">弘通围棋(hoetom.com)</text><text x="665" y="2940" textLength="618" lengthAdjust="spacingAndGlyphs">弘通围棋(hoetom.com)</text>
<text x="-7" y="3029" textLength="618" lengthAdjust="spacingAndGlyphs">弘通围棋(hoetom.com)</text><text x="665" y="3029" textLength="618" lengthAdjust="spacingAndGlyphs">弘通围棋(hoetom.com)</text>
<text x="-7" y="3118" textLength="618" lengthAdjust="spacingAndGlyphs">弘通围棋(hoetom.com)</text><text x="665" y="3118" textLength="618" lengthAdjust="spacingAndGlyphs">弘通围棋(hoetom.com)</text>
<text x="-7" y="3207" textLength="618" lengthAdjust="spacingAndGlyphs">弘通围棋(hoetom.com)</text><text x="665" y="3207" textLength="618" lengthAdjust="spacingAndGlyphs">弘通围棋(hoetom.com)</text>
<text x="-7" y="3296" textLength="618" lengthAdjust="spacingAndGlyphs">弘通围棋(hoetom.com)</text><text x="665" y="3296" textLength="618" lengthAdjust="spacingAndGlyphs">弘通围棋(hoetom.com)</text>
<text x="-7" y="3385" textLength="618" lengthAdjust="spacingAndGlyphs">弘通围棋(hoetom.com)</text><text x="665" y="3385" textLength="618" lengthAdjust="spacingAndGlyphs">弘通围棋(hoetom.com)</text>
<text x="-7" y="3474" textLength="618" lengthAdjust="spacingAndGlyphs">弘通围棋(hoetom.com)</text><text x="665" y="3474" textLength="618" lengthAdjust="spacingAndGlyphs">弘通围棋(hoetom.com)</text>
<text x="-7" y="3563" textLength="618" lengthAdjust="spacingAndGlyphs">弘通围棋(hoetom.com)</text><text x="665" y="3563" textLength="618" lengthAdjust="spacingAndGlyphs">弘通围棋(hoetom.com)</text>
</g>
</svg>
</body></html>
